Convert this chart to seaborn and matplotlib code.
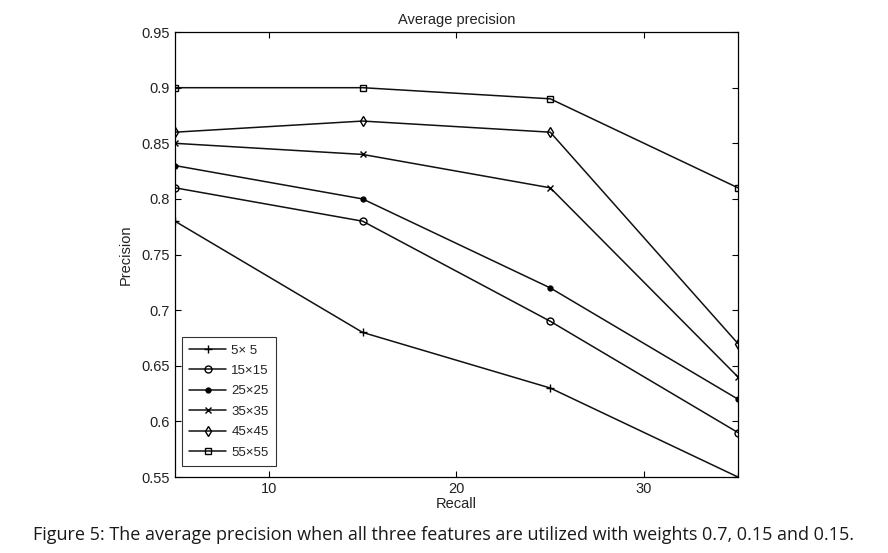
import pandas as pd
import matplotlib.pyplot as plt
import seaborn as sns

# -----------------------------
# Data
# -----------------------------
recall = [5, 15, 25, 35]
labels = ['5\u00d7 5', '15\u00d715', '25\u00d725', '35\u00d735', '45\u00d745', '55\u00d755']
p_5 = [0.78, 0.68, 0.63, 0.55]
p_15 = [0.81, 0.78, 0.69, 0.59]
p_25 = [0.83, 0.80, 0.72, 0.62]
p_35 = [0.85, 0.84, 0.81, 0.64]
p_45 = [0.86, 0.87, 0.86, 0.67]
p_55 = [0.90, 0.90, 0.89, 0.81]
series = [p_5, p_15, p_25, p_35, p_45, p_55]

markers = ['+', 'o', 'o', 'x', 'd', 's']
faces = ['black', 'none', 'black', 'black', 'none', 'none']
msizes = [6, 5, 3.5, 4, 5, 4.5]

# -----------------------------
# Plot
# -----------------------------
sns.set_style("ticks")
plt.rcParams['font.family'] = ['Liberation Sans', 'DejaVu Sans']

fig = plt.figure(figsize=(8.88, 5.53), dpi=100)
ax = fig.add_axes([0.197, 0.1374, 0.634, 0.8046])

for lab, vals, m, fc, ms in zip(labels, series, markers, faces, msizes):
    df = pd.DataFrame({'Recall': recall, 'Precision': vals})
    sns.lineplot(data=df, x='Recall', y='Precision', ax=ax, color='#111111',
                 linewidth=1.1, marker=m, markersize=ms, markerfacecolor=fc,
                 markeredgecolor='black', markeredgewidth=1.0, label=lab)

ax.set_xlim(5, 35)
ax.set_ylim(0.55, 0.95)
ax.set_xticks([10, 20, 30])
ax.set_yticks([0.55, 0.6, 0.65, 0.7, 0.75, 0.8, 0.85, 0.9, 0.95])
ax.set_yticklabels(['0.55', '0.6', '0.65', '0.7', '0.75', '0.8', '0.85', '0.9', '0.95'])
ax.tick_params(direction='in', top=True, right=True, labelsize=10.5, length=4,
               width=0.8, colors='black', labelcolor='#222222')
for s in ax.spines.values():
    s.set_linewidth(0.9)
    s.set_color('black')

ax.set_title('Average precision', fontsize=10.5, pad=6, color='#222222')
ax.set_xlabel('Recall', fontsize=10.5, labelpad=1, color='#222222')
ax.set_ylabel('Precision', fontsize=10.5, labelpad=6, color='#222222')

leg = ax.legend(loc='lower left', fontsize=9.5, frameon=True, fancybox=False,
                edgecolor='black', handlelength=2.8, borderpad=0.55,
                labelspacing=0.62, handletextpad=0.4, borderaxespad=0,
                bbox_to_anchor=(0.0125, 0.025))
leg.get_frame().set_linewidth(0.8)
for t in leg.get_texts():
    t.set_color('#222222')

fig.text(0.5, 0.033, 'Figure 5: The average precision when all three features are utilized with weights 0.7, 0.15 and 0.15.',
         ha='center', va='center', fontsize=13, family=['Open Sans', 'DejaVu Sans'], color='#1a1a1a')

fig.savefig('out.png', dpi=100)
